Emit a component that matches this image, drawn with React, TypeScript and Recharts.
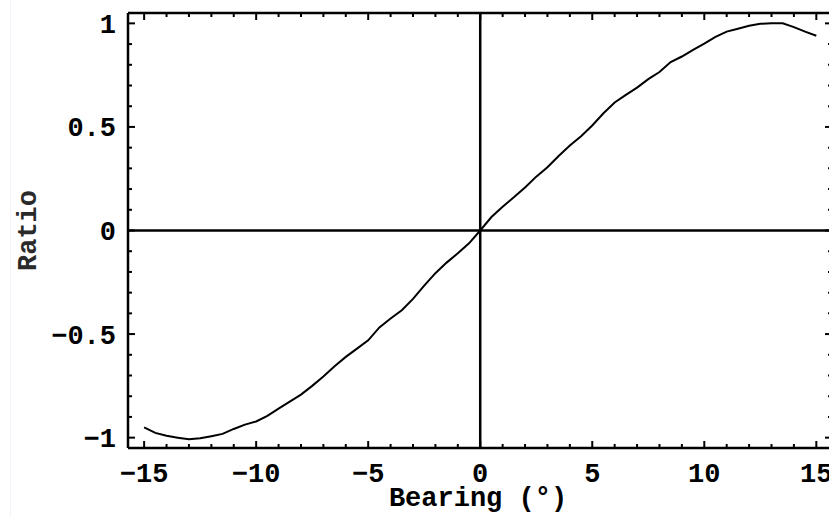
import { LineChart, Line, XAxis, YAxis, ReferenceLine } from "recharts"

// values
const bearing = [
  -15, -14.5, -14, -13.5, -13, -12.5, -12, -11.5, -11, -10.5, -10, -9.5, -9, -8.5, -8, -7.5,
  -7, -6.5, -6, -5.5, -5, -4.5, -4, -3.5, -3, -2.5, -2, -1.5, -1, -0.5, 0, 0.5, 1, 1.5, 2,
  2.5, 3, 3.5, 4, 4.5, 5, 5.5, 6, 6.5, 7, 7.5, 8, 8.5, 9, 9.5, 10, 10.5, 11, 11.5, 12, 12.5,
  13, 13.5, 14, 14.5, 15,
]
const ratio = [
  -0.95, -0.977, -0.991, -1.0, -1.008, -1.003, -0.993, -0.982, -0.958, -0.937, -0.922, -0.895,
  -0.86, -0.826, -0.792, -0.75, -0.705, -0.655, -0.61, -0.57, -0.53, -0.468, -0.425, -0.385,
  -0.33, -0.266, -0.206, -0.155, -0.11, -0.062, 0, 0.065, 0.115, 0.16, 0.208, 0.26, 0.305,
  0.36, 0.41, 0.455, 0.507, 0.566, 0.618, 0.655, 0.69, 0.731, 0.765, 0.813, 0.84, 0.872, 0.902,
  0.935, 0.96, 0.974, 0.988, 0.998, 1.0, 1.0, 0.982, 0.96, 0.94,
]

const xTicks = [
  -15, -14, -13, -12, -11, -10, -9, -8, -7, -6, -5, -4, -3, -2, -1, 0, 1, 2, 3, 4, 5, 6, 7, 8,
  9, 10, 11, 12, 13, 14, 15,
]
const xMajor = [-15, -10, -5, 0, 5, 10, 15]
const yTicks = [
  -1, -0.9, -0.8, -0.7, -0.6, -0.5, -0.4, -0.3, -0.2, -0.1, 0, 0.1, 0.2, 0.3, 0.4, 0.5, 0.6,
  0.7, 0.8, 0.9, 1,
]
const yMajor = [-1, -0.5, 0, 0.5, 1]

const xDomain = [-15.72, 15.7]
const yDomain = [-1.05, 1.05]

const data = bearing.map((b, i) => ({ bearing: b, ratio: ratio[i] }))

const TOP_H = 13

const font = {
  fontFamily: "'Liberation Mono', 'Courier New', monospace",
  fontSize: 27,
  fontWeight: 700,
  fill: "#000",
}

function fmt(v: number) {
  return v < 0 ? "\u2212" + Math.abs(v) : String(v)
}

// bottom tick also mirrors an inward tick on the top frame edge
function BottomTick(props: any) {
  const { x, y, payload } = props
  const v = payload.value
  const major = xMajor.includes(v)
  const len = major ? 7 : 4
  return (
    <g>
      <line x1={x} x2={x} y1={y} y2={y - len} stroke="#000" strokeWidth={2} />
      <line x1={x} x2={x} y1={TOP_H} y2={TOP_H + len} stroke="#000" strokeWidth={2} />
      {major && (
        <text x={x} y={y + 34} textAnchor="middle" style={font}>
          {fmt(v)}
        </text>
      )}
    </g>
  )
}

function LeftTick(props: any) {
  const { x, y, payload } = props
  const v = payload.value
  const major = yMajor.includes(v)
  return (
    <g>
      <line x1={x} x2={x + (major ? 7 : 4)} y1={y} y2={y} stroke="#000" strokeWidth={2} />
      {major && (
        <text x={x - 12} y={y + 9.5} textAnchor="end" style={font}>
          {fmt(v)}
        </text>
      )}
    </g>
  )
}

function RightTick(props: any) {
  const { x, y, payload } = props
  const major = yMajor.includes(payload.value)
  return <line x1={x} x2={x - (major ? 7 : 4)} y1={y} y2={y} stroke="#000" strokeWidth={2} />
}

const frame = { stroke: "#000", strokeWidth: 2.5 }

export default function App() {
  return (
    <div style={{ position: "absolute", left: 0, top: 0, width: 829, height: 516, overflow: "hidden", background: "#fff" }}>
      <div style={{ position: "absolute", left: 10, top: 0, width: 1, height: 516, background: "#eef3fc" }} />
      <LineChart width={835} height={516} data={data} margin={{ top: 0, right: 0, bottom: 0, left: 0 }}>
        <XAxis
          xAxisId="bottom"
          dataKey="bearing"
          type="number"
          domain={xDomain}
          allowDataOverflow
          ticks={xTicks}
          interval={0}
          tick={BottomTick}
          tickLine={false}
          tickSize={0}
          tickMargin={0}
          axisLine={frame}
          height={68}
          label={{
            value: "Bearing (\u00b0)",
            position: "insideBottom",
            offset: 10,
            dx: -2,
            style: font,
          }}
        />
        <XAxis
          xAxisId="top"
          orientation="top"
          dataKey="bearing"
          type="number"
          domain={xDomain}
          allowDataOverflow
          tick={false}
          tickLine={false}
          axisLine={frame}
          height={TOP_H}
        />
        <YAxis
          yAxisId="left"
          type="number"
          domain={yDomain}
          allowDataOverflow
          ticks={yTicks}
          interval={0}
          tick={LeftTick}
          tickLine={false}
          tickSize={0}
          tickMargin={0}
          axisLine={frame}
          width={128}
          label={{
            content: (p: any) => {
              const vb = p.viewBox
              const cx = vb.x + 29
              const cy = vb.y + vb.height / 2
              return (
                <text
                  x={cx}
                  y={cy}
                  transform={`rotate(-90 ${cx} ${cy})`}
                  textAnchor="middle"
                  dominantBaseline="central"
                  style={{ ...font, fill: "#2a2a2a" }}
                >
                  Ratio
                </text>
              )
            },
          }}
        />
        <YAxis
          yAxisId="right"
          orientation="right"
          type="number"
          domain={yDomain}
          allowDataOverflow
          ticks={yTicks}
          interval={0}
          tick={RightTick}
          tickLine={false}
          tickSize={0}
          tickMargin={0}
          axisLine={frame}
          width={3}
        />
        <ReferenceLine xAxisId="bottom" yAxisId="left" x={0} stroke="#000" strokeWidth={2.5} />
        <ReferenceLine xAxisId="bottom" yAxisId="left" y={0} stroke="#000" strokeWidth={2.5} />
        <Line
          xAxisId="top"
          yAxisId="right"
          type="linear"
          dataKey="ratio"
          stroke="none"
          dot={false}
          activeDot={false}
          isAnimationActive={false}
        />
        <Line
          xAxisId="bottom"
          yAxisId="left"
          type="linear"
          dataKey="ratio"
          stroke="#000"
          strokeWidth={2}
          dot={false}
          isAnimationActive={false}
        />
      </LineChart>
    </div>
  )
}
